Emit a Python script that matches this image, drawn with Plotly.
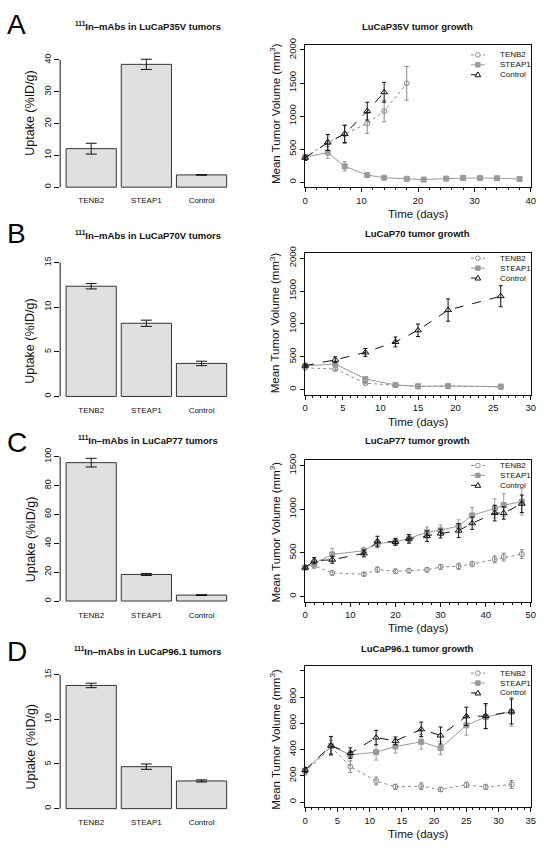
import plotly.graph_objects as go

W, H = 544, 848
FONT = "Liberation Sans, Arial, Helvetica, sans-serif"

# ---------------- data ----------------
groups = ["TENB2", "STEAP1", "Control"]

# Uptake (%ID/g) bar panels
uptake_A = [12.1, 38.6, 3.85]
uptake_A_err = [1.7, 1.6, 0.1]
uptake_B = [12.35, 8.2, 3.7]
uptake_B_err = [0.3, 0.35, 0.25]
uptake_C = [95.8, 18.4, 4.1]
uptake_C_err = [3.0, 0.7, 0.3]
uptake_D = [13.8, 4.7, 3.1]
uptake_D_err = [0.25, 0.3, 0.12]

# Tumor growth panels (mean tumor volume, mm^3)
# A: LuCaP35V
A_tenb2_days = [0, 4, 7, 11, 14, 18]
A_tenb2 = [375, 600, 725, 890, 1075, 1495]
A_tenb2_err = [40, 120, 140, 150, 160, 255]
A_steap1_days = [0, 4, 7, 11, 14, 18, 21, 25, 28, 31, 34, 38]
A_steap1 = [380, 450, 240, 108, 68, 52, 40, 55, 65, 65, 60, 50]
A_steap1_err = [30, 90, 70, 30, 15, 10, 10, 12, 15, 15, 15, 10]
A_ctrl_days = [0, 4, 7, 11, 14]
A_ctrl = [370, 600, 730, 1075, 1360]
A_ctrl_err = [40, 120, 130, 135, 150]

# B: LuCaP70
B_days = [0, 4, 8, 12, 15, 19, 26]
B_tenb2 = [330, 312, 96, 65, 45, 50, 40]
B_tenb2_err = [20, 20, 10, 8, 8, 8, 8]
B_steap1 = [360, 388, 161, 70, 50, 55, 45]
B_steap1_err = [20, 30, 20, 10, 8, 8, 8]
B_ctrl = [363, 453, 565, 725, 902, 1210, 1421]
B_ctrl_err = [20, 45, 60, 75, 95, 170, 160]

# C: LuCaP77
C_days = [0, 2, 6, 13, 16, 20, 23, 27, 30, 34, 37, 42, 44, 48]
C_tenb2 = [330, 353, 269, 254, 307, 288, 295, 305, 337, 345, 371, 424, 451, 485]
C_tenb2_err = [15, 30, 25, 20, 30, 25, 25, 25, 30, 35, 30, 40, 45, 50]
C_steap1 = [330, 380, 481, 523, 606, 625, 663, 735, 758, 807, 928, 1008, 1046, 1084]
C_steap1_err = [20, 40, 70, 40, 50, 30, 40, 60, 60, 70, 90, 110, 130, 150]
C_ctrl = [330, 409, 420, 493, 629, 625, 660, 690, 720, 754, 838, 955, 955, 1061]
C_ctrl_err = [20, 35, 40, 40, 60, 40, 50, 60, 50, 80, 70, 90, 70, 100]

# D: LuCaP96.1
D_days = [0, 4, 7, 11, 14, 18, 21, 25, 28, 32]
D_tenb2 = [227, 420, 270, 161, 116, 121, 96, 131, 115, 134]
D_tenb2_err = [20, 50, 45, 30, 20, 25, 15, 20, 20, 30]
D_steap1 = [240, 428, 360, 380, 423, 459, 411, 585, 648, 688]
D_steap1_err = [20, 70, 30, 60, 50, 55, 50, 75, 90, 110]
D_ctrl = [245, 430, 373, 491, 466, 554, 507, 653, 655, 690]
D_ctrl_err = [20, 70, 40, 55, 30, 55, 65, 70, 95, 95]

letters = ["A", "B", "C", "D"]
bar_titles = ["<b><sup>111</sup>In\u2013mAbs in LuCaP35V tumors</b>",
              "<b><sup>111</sup>In\u2013mAbs in LuCaP70V tumors</b>",
              "<b><sup>111</sup>In\u2013mAbs in LuCaP77 tumors</b>",
              "<b><sup>111</sup>In\u2013mAbs in LuCaP96.1 tumors</b>"]
growth_titles = ["<b>LuCaP35V tumor growth</b>", "<b>LuCaP70 tumor growth</b>",
                 "<b>LuCaP77 tumor growth</b>", "<b>LuCaP96.1 tumor growth</b>"]

bar_vals = [uptake_A, uptake_B, uptake_C, uptake_D]
bar_errs = [uptake_A_err, uptake_B_err, uptake_C_err, uptake_D_err]

growth_series = [
    [(A_tenb2_days, A_tenb2, A_tenb2_err), (A_steap1_days, A_steap1, A_steap1_err), (A_ctrl_days, A_ctrl, A_ctrl_err)],
    [(B_days, B_tenb2, B_tenb2_err), (B_days, B_steap1, B_steap1_err), (B_days, B_ctrl, B_ctrl_err)],
    [(C_days, C_tenb2, C_tenb2_err), (C_days, C_steap1, C_steap1_err), (C_days, C_ctrl, C_ctrl_err)],
    [(D_days, D_tenb2, D_tenb2_err), (D_days, D_steap1, D_steap1_err), (D_days, D_ctrl, D_ctrl_err)],
]

# ---------------- layout geometry (pixels) ----------------
bar_geom = [
    dict(top=48.2, bottom=186.8, yr=[-1.6, 41.6], ticks=[0, 10, 20, 30, 40]),
    dict(top=252.3, bottom=398.1, yr=[-0.6, 15.6], ticks=[0, 5, 10, 15]),
    dict(top=447.5, bottom=604.8, yr=[-4, 104], ticks=[0, 20, 40, 60, 80, 100]),
    dict(top=667.9, bottom=813.7, yr=[-0.6, 15.6], ticks=[0, 5, 10, 15]),
]
growth_geom = [
    dict(top=38, bottom=182, yr=[-80, 2080], yt=[0, 500, 1000, 1500, 2000], xr=[0, 40], dt=10, mdt=2),
    dict(top=248, bottom=391, yr=[-80, 2080], yt=[0, 500, 1000, 1500, 2000], xr=[0, 30], dt=5, mdt=1),
    dict(top=457, bottom=599.6, yr=[-60, 1560], yt=[0, 500, 1000, 1500], xr=[0, 50], dt=10, mdt=2),
    dict(top=664, bottom=807, yr=[-40, 1040], yt=[0, 200, 400, 600, 800, 1000], xr=[0, 35], dt=5, mdt=1),
]
letter_y = [18, 228, 439, 650]
bar_title_y = [19, 230, 437, 649]
growth_title_y = [20, 228, 437, 647]
bar_ytitle_y = [107, 337, 537, 746]
growth_ytitle_y = [107, 318, 529, 738]
legend_y0 = [48.3, 253.3, 462.3, 671.7]
LEG_DY = 10
LEG_LINE = (475, 489)
LEG_TEXT_X = 502

BAR_L, BAR_R = 58, 233
GR_L, GR_R = 306.7, 535.7


def px_x(v):
    return v / W


def px_y(v):
    return 1 - v / H


def axname(i):
    return "" if i == 1 else str(i)


styles = [
    dict(name="TENB2", color="#8a8a8a", dash="dot", symbol="circle-open", msize=5),
    dict(name="STEAP1", color="#9a9a9a", dash="solid", symbol="square", msize=5),
    dict(name="Control", color="#111111", dash="dash", symbol="triangle-up-open", msize=6),
]

fig = go.Figure()
layout = dict(width=W, height=H, margin=dict(l=0, r=0, t=0, b=0),
              paper_bgcolor="white", plot_bgcolor="rgba(0,0,0,0)",
              font=dict(family=FONT, color="#111", size=9), showlegend=False)
annotations = []
shapes = []


def label(text, x, y, size, angle=0, xanchor="center"):
    annotations.append(dict(text=text, x=px_x(x), y=px_y(y), xref="paper", yref="paper",
                            showarrow=False, textangle=angle, xanchor=xanchor, yanchor="middle",
                            font=dict(size=size, family=FONT, color="#111")))


for k in range(4):
    bi = 2 * k + 1
    gi = 2 * k + 2
    bg = bar_geom[k]
    gg = growth_geom[k]
    xb, yb = "x" + axname(bi), "y" + axname(bi)
    xg, yg = "x" + axname(gi), "y" + axname(gi)

    # ---- bar panel ----
    fig.add_trace(go.Bar(
        x=[0, 1, 2], y=bar_vals[k], width=0.91, xaxis=xb, yaxis=yb,
        marker=dict(color="#e0e0e0", line=dict(color="#333333", width=1)),
        error_y=dict(type="data", array=bar_errs[k], color="#111", thickness=1, width=5.5),
        showlegend=False, hoverinfo="skip"))
    layout["xaxis" + axname(bi)] = dict(domain=[px_x(BAR_L), px_x(BAR_R)], range=[-0.5625, 2.5625],
                                        anchor=yb, tickvals=[0, 1, 2], ticktext=groups, ticks="",
                                        showline=False, showgrid=False, zeroline=False,
                                        tickfont=dict(size=8, family=FONT, color="#111"),
                                        ticklabelstandoff=2)
    layout["yaxis" + axname(bi)] = dict(domain=[px_y(bg["bottom"]), px_y(bg["top"])], range=bg["yr"],
                                        anchor=xb, tickvals=bg["ticks"], ticks="outside", ticklen=5,
                                        tickcolor="#111", showline=False, showgrid=False, zeroline=False,
                                        tickangle=-90, tickfont=dict(size=9, family=FONT, color="#111"))
    shapes.append(dict(type="line", xref=f"{xb} domain", yref=yb, x0=0, x1=0,
                       y0=bg["ticks"][0], y1=bg["ticks"][-1], line=dict(color="#111", width=1)))
    label(bar_titles[k], 147, bar_title_y[k], 9.5)
    label("Uptake (%ID/g)", 28, bar_ytitle_y[k], 12.5, angle=-90)
    annotations.append(dict(text=letters[k], x=px_x(14), y=px_y(letter_y[k]), xref="paper",
                            yref="paper", showarrow=False, xanchor="center", yanchor="middle",
                            font=dict(size=28, family=FONT, color="#000")))

    # ---- growth panel ----
    for s, (days, vals, errs) in zip(styles, growth_series[k]):
        fig.add_trace(go.Scatter(
            x=days, y=vals, xaxis=xg, yaxis=yg, mode="lines+markers", name=s["name"],
            line=dict(color=s["color"], dash=s["dash"], width=1),
            marker=dict(symbol=s["symbol"], size=s["msize"], color=s["color"],
                        line=dict(color=s["color"], width=1)),
            error_y=dict(type="data", array=errs, color=s["color"], thickness=1, width=2),
            cliponaxis=False, hoverinfo="skip"))
    ytext = [str(v) for v in gg["yt"]]
    if k == 3:
        ytext[-1] = ""
    layout["xaxis" + axname(gi)] = dict(domain=[px_x(GR_L), px_x(GR_R)], range=gg["xr"], anchor=yg,
                                        dtick=gg["dt"], tick0=0, ticks="outside", ticklen=4, tickcolor="#111",
                                        minor=dict(dtick=gg["mdt"], ticks="outside", ticklen=2, tickcolor="#111"),
                                        showline=True, mirror=True, linecolor="#111", linewidth=1,
                                        showgrid=False, zeroline=False, ticklabeloverflow="allow",
                                        tickfont=dict(size=9.5, family=FONT, color="#111"))
    layout["yaxis" + axname(gi)] = dict(domain=[px_y(gg["bottom"]), px_y(gg["top"])], range=gg["yr"],
                                        anchor=xg, tickvals=gg["yt"], ticktext=ytext, ticks="outside",
                                        ticklen=4, tickcolor="#111", showline=True, mirror=True,
                                        linecolor="#111", linewidth=1, showgrid=False, zeroline=False,
                                        tickangle=-90, ticklabeloverflow="allow",
                                        tickfont=dict(size=9.5, family=FONT, color="#111"))
    label(growth_titles[k], 421, growth_title_y[k], 9.5)
    label("Mean Tumor Volume (mm<sup>3</sup>)", 276, growth_ytitle_y[k], 11.5, angle=-90)
    label("Time (days)", 421, gg["bottom"] + 27, 11.5)

    # ---- legend (drawn as key glyphs + text) ----
    for j, s in enumerate(styles):
        yy = legend_y0[k] + j * LEG_DY
        shapes.append(dict(type="line", xref="paper", yref="paper",
                           x0=px_x(LEG_LINE[0]), x1=px_x(LEG_LINE[1]), y0=px_y(yy), y1=px_y(yy),
                           line=dict(color=s["color"], width=1, dash=s["dash"])))
        cx = px_x((LEG_LINE[0] + LEG_LINE[1]) / 2)
        cy = px_y(yy)
        common = dict(xref="paper", yref="paper", xsizemode="pixel", ysizemode="pixel",
                      xanchor=cx, yanchor=cy)
        if s["name"] == "TENB2":
            shapes.append(dict(type="circle", x0=-2.3, x1=2.3, y0=-2.3, y1=2.3,
                               fillcolor="white", line=dict(color=s["color"], width=1), **common))
        elif s["name"] == "STEAP1":
            shapes.append(dict(type="rect", x0=-2.2, x1=2.2, y0=-2.2, y1=2.2,
                               fillcolor=s["color"], line=dict(color=s["color"], width=1), **common))
        else:
            shapes.append(dict(type="path", path="M -2.8 -2 L 2.8 -2 L 0 2.8 Z",
                               fillcolor="white", line=dict(color=s["color"], width=1), **common))
        label(s["name"], LEG_TEXT_X, yy, 8, xanchor="left")

layout["annotations"] = annotations
layout["shapes"] = shapes
fig.update_layout(**layout)
fig.write_html("out.html", config={"displayModeBar": False},
               post_script="document.body.style.margin='0';document.body.style.overflow='hidden';")
